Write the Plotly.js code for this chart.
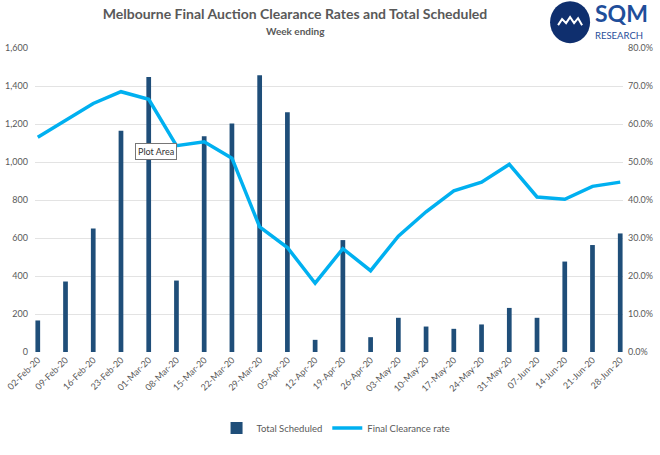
<!DOCTYPE html>
<html>
<head>
<meta charset="utf-8">
<script src="https://cdn.plot.ly/plotly-3.0.1.min.js"></script>
<style>
  html, body { margin: 0; padding: 0; background: #ffffff; }
  #chart { width: 660px; height: 455px; }
</style>
</head>
<body>
<div id="chart"></div>
<script>
// Week ending dates
var weeks = ['02-Feb-20', '09-Feb-20', '16-Feb-20', '23-Feb-20', '01-Mar-20', '08-Mar-20',
	'15-Mar-20', '22-Mar-20', '29-Mar-20', '05-Apr-20', '12-Apr-20', '19-Apr-20',
	'26-Apr-20', '03-May-20', '10-May-20', '17-May-20', '24-May-20', '31-May-20',
	'07-Jun-20', '14-Jun-20', '21-Jun-20', '28-Jun-20'];

// Total scheduled auctions
var totalScheduled = [166, 371, 650, 1164, 1448, 376, 1135, 1203, 1457, 1262, 64,
	589, 78, 180, 134, 122, 145, 232, 180, 476, 563, 624];

// Final clearance rate (fraction)
var clearanceRate = [0.565, 0.610, 0.654, 0.685, 0.665, 0.543, 0.553, 0.510, 0.329,
	0.275, 0.181, 0.272, 0.214, 0.305, 0.369, 0.424, 0.447, 0.494, 0.408, 0.402,
	0.436, 0.447];

var leftTicks = [0, 200, 400, 600, 800, 1000, 1200, 1400, 1600];
var rightTicks = [0, 0.1, 0.2, 0.3, 0.4, 0.5, 0.6, 0.7, 0.8];

var textGrey = '#595959';
var logoBlue = '#1F4E9A';

var bars = {
	x: weeks,
	y: totalScheduled,
	name: 'Total Scheduled',
	type: 'bar',
	width: 0.17,
	marker: {
		color: '#1F4E79'
	},
	hoverinfo: 'skip'
};

var line = {
	x: weeks,
	y: clearanceRate,
	name: 'Final Clearance rate',
	type: 'scatter',
	mode: 'lines',
	yaxis: 'y2',
	line: {
		color: '#00B0F0',
		width: 3.5
	},
	hoverinfo: 'skip'
};

var layout = {
	autosize: false,
	width: 660,
	height: 455,
	paper_bgcolor: '#ffffff',
	plot_bgcolor: '#ffffff',
	margin: { l: 35, r: 37, t: 48, b: 101 },
	showlegend: true,
	legend: {
		orientation: 'h',
		x: 0.512,
		xanchor: 'center',
		y: -0.25,
		yanchor: 'middle',
		font: { family: 'Lato, sans-serif', size: 9.5, color: textGrey },
		traceorder: 'normal'
	},
	font: { family: 'Lato, sans-serif', size: 9, color: textGrey },
	xaxis: {
		type: 'category',
		range: [-0.1, weeks.length - 0.9],
		tickangle: -45,
		showgrid: false,
		showline: false,
		ticks: '',
		tickfont: { size: 9, color: textGrey },
		fixedrange: true
	},
	yaxis: {
		range: [0, 1600],
		tickvals: leftTicks,
		tickformat: ',',
		showgrid: true,
		gridcolor: '#E3E3E3',
		zeroline: false,
		showline: false,
		ticks: '',
		ticklabelstandoff: 6,
		tickfont: { size: 9, color: textGrey },
		fixedrange: true
	},
	yaxis2: {
		overlaying: 'y',
		side: 'right',
		range: [0, 0.8],
		tickvals: rightTicks,
		tickformat: '.1%',
		showgrid: false,
		zeroline: false,
		showline: false,
		ticks: '',
		ticklabelstandoff: 4,
		tickfont: { size: 9, color: textGrey },
		fixedrange: true
	},
	title: {
		text: '<b>Melbourne Final Auction Clearance Rates and Total Scheduled</b>',
		x: 0.447,
		xanchor: 'center',
		y: 0.97,
		yanchor: 'middle',
		font: { family: 'Lato, sans-serif', size: 14, color: textGrey }
	},
	annotations: [
		{
			text: '<b>Week ending</b>',
			xref: 'paper', yref: 'paper',
			x: 0.443, y: 1.055,
			xanchor: 'center', yanchor: 'middle',
			showarrow: false,
			font: { family: 'Lato, sans-serif', size: 10, color: textGrey }
		},
		{
			text: 'Plot Area',
			xref: 'paper', yref: 'paper',
			x: 0.206, y: 0.661,
			xanchor: 'center', yanchor: 'middle',
			showarrow: false,
			bgcolor: '#ffffff',
			bordercolor: '#767676',
			borderwidth: 1,
			borderpad: 2,
			font: { family: 'Lato, sans-serif', size: 9, color: '#333333' }
		},
		// logo lettering
		{
			text: '<b>SQM</b>',
			xref: 'paper', yref: 'paper',
			x: 0.951, y: 1.066,
			xanchor: 'left', yanchor: 'bottom',
			borderpad: 0,
			showarrow: false,
			font: { family: 'Lato, sans-serif', size: 23, color: logoBlue }
		},
		{
			text: 'RESEARCH',
			xref: 'paper', yref: 'paper',
			x: 0.951, y: 1.063,
			xanchor: 'left', yanchor: 'top',
			borderpad: 0,
			showarrow: false,
			font: { family: 'Lato, sans-serif', size: 9.5, color: logoBlue }
		}
	],
	// logo badge, fixed pixel size anchored on the paper
	shapes: [
		{
			type: 'circle',
			xref: 'paper', yref: 'paper',
			xsizemode: 'pixel', ysizemode: 'pixel',
			xanchor: 0.910, yanchor: 1.085,
			x0: -20, x1: 20, y0: -21, y1: 21,
			fillcolor: '#0F2F6E',
			line: { width: 0 }
		},
		{
			type: 'path',
			xref: 'paper', yref: 'paper',
			xsizemode: 'pixel', ysizemode: 'pixel',
			xanchor: 0.910, yanchor: 1.085,
			path: 'M -12,-3 L -8,3 L -4,-1 L 0,5 L 4,-1 L 8,4 L 12,-3',
			line: { color: '#ffffff', width: 2 }
		}
	]
};

Plotly.newPlot('chart', [bars, line], layout, { displayModeBar: false, staticPlot: true });
</script>
</body>
</html>
